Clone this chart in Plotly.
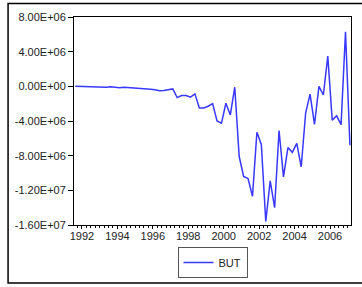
import plotly.graph_objects as go

# Quarterly observations, 1992Q1 .. 2007Q3
start_year = 1992
but_values = [
    0.0, -0.02, 0.01, -0.03, -0.05, -0.02, -0.08, -0.10, -0.05, -0.12,
    -0.15, -0.10, -0.13, -0.15, -0.20, -0.28, -0.30, -0.35, -0.40, -0.50,
    -0.48, -0.35, -0.30, -1.30, -1.06, -1.06, -1.25, -0.87, -2.50, -2.50,
    -2.30, -2.00, -4.00, -4.25, -1.95, -3.30, -0.10, -8.10, -10.40, -10.65,
    -12.70, -5.30, -6.70, -15.60, -10.90, -14.00, -5.10, -10.45, -7.07, -7.62,
    -6.58, -9.28, -3.10, -0.90, -4.40, 0.00, -1.00, 3.50, -3.90, -3.40,
    -4.42, 6.30, -6.80,
]
but_values = [v * 1e6 for v in but_values]
quarters = [start_year + i / 4 for i in range(len(but_values))]

y_tick_values = [8e6, 4e6, 0, -4e6, -8e6, -1.2e7, -1.6e7]
y_tick_labels = ["8.00E+06", "4.00E+06", "0.00E+00", "-4.00E+06",
                 "-8.00E+06", "-1.20E+07", "-1.60E+07"]
x_tick_years = [1992, 1994, 1996, 1998, 2000, 2002, 2004, 2006]
x_tick_labels = [str(y) for y in x_tick_years]

font = dict(family="Liberation Sans, Arial, sans-serif", size=11, color="#222222")

fig = go.Figure()
fig.add_trace(go.Scatter(
    x=quarters, y=but_values, mode="lines", name="BUT",
    line=dict(color="#3838ff", width=1.5),
))

fig.update_layout(
    width=362, height=287,
    margin=dict(l=74, r=11, t=17, b=62, autoexpand=False),
    paper_bgcolor="white", plot_bgcolor="white",
    font=font,
    showlegend=True,
    legend=dict(
        orientation="h", x=0.5, xanchor="center", y=-0.18, yanchor="middle",
        bordercolor="#555555", borderwidth=1, font=font,
        itemwidth=30, tracegroupgap=0,
    ),
    xaxis=dict(
        range=[1991.927, 2007.56],
        tickvals=[y + 0.375 for y in x_tick_years],
        ticktext=x_tick_labels,
        ticks="outside", ticklen=3, tickcolor="black",
        ticklabelstandoff=-2,
        showline=True, linecolor="black", linewidth=1, mirror=True,
        showgrid=False, zeroline=False,
        minor=dict(ticks="outside", ticklen=2, tick0=1991.875, dtick=0.25,
                   tickcolor="black", showgrid=False),
    ),
    yaxis=dict(
        range=[-1.6e7, 8e6],
        tickvals=y_tick_values, ticktext=y_tick_labels,
        ticks="outside", ticklen=5, tickcolor="black",
        showline=True, linecolor="black", linewidth=1, mirror=True,
        showgrid=False, zeroline=False,
    ),
    shapes=[dict(
        type="rect", xref="paper", yref="paper",
        x0=-0.238, x1=1.06, y0=-0.279, y1=1.065,
        line=dict(color="black", width=1.5), fillcolor="rgba(0,0,0,0)",
    )],
)

fig.write_html(
    "out.html",
    config={"displayModeBar": False},
    post_script="document.body.style.margin='0';document.body.style.overflow='hidden';",
)
